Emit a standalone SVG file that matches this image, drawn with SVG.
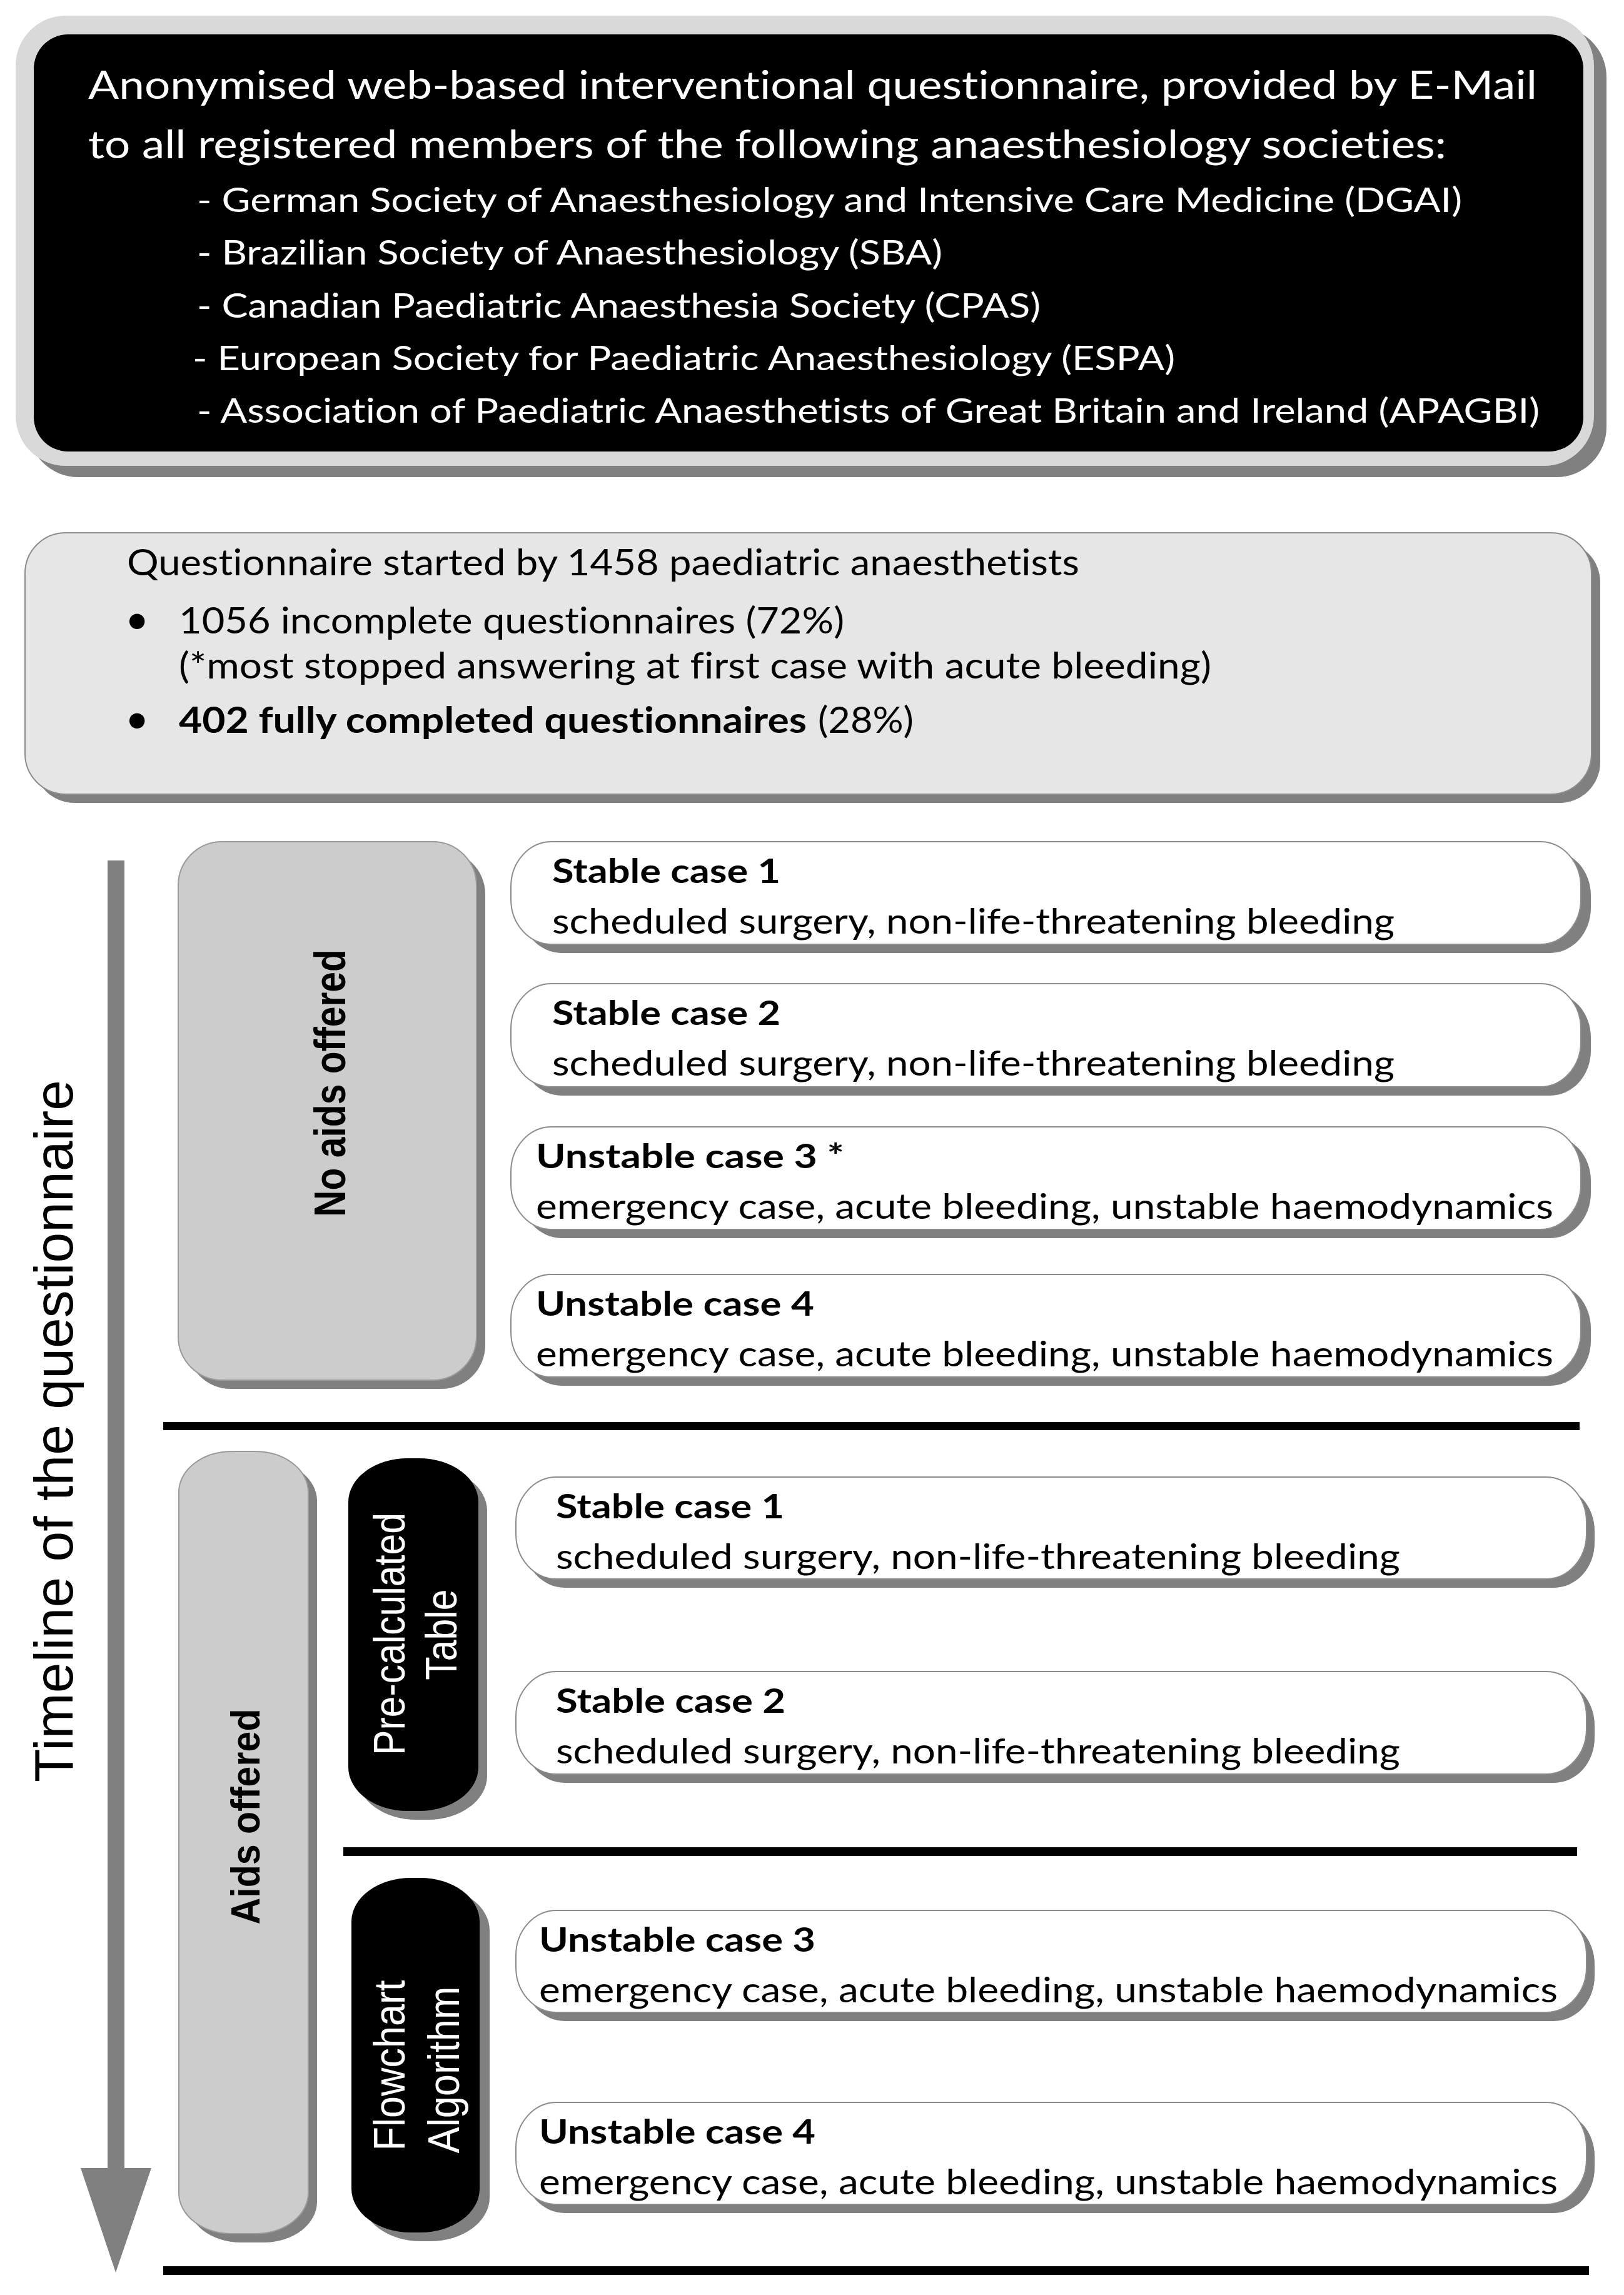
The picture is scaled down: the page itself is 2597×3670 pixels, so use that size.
<svg xmlns="http://www.w3.org/2000/svg" width="2597" height="3670" viewBox="0 0 2597 3670">
<style>
text{font-variant-ligatures:none;}
.t{font-family:"Lato","Liberation Sans",sans-serif;}
.w{fill:#ffffff;}
.k{fill:#000000;}
.b{font-weight:bold;}
.a{font-family:"Liberation Sans",Arial,sans-serif;}
.shadow{fill:#808080;}
.case{fill:#ffffff;stroke:#8c8c8c;stroke-width:2;}
.panel{fill:#cccccc;stroke:#9a9a9a;stroke-width:2;}
.pill{fill:#000000;}
.sep{fill:#000000;}
</style>
<rect x="0" y="0" width="2597" height="3670" fill="#ffffff"/>

<g id="header">
  <rect class="shadow" x="45" y="43" width="2524" height="720" rx="80" ry="80"/>
  <rect x="25" y="25" width="2524" height="720" rx="80" ry="80" fill="#d9d9d9"/>
  <rect x="54" y="55" width="2478" height="667" rx="55" ry="55" fill="#000000"/>
  <g class="t w" font-size="61">
    <text x="141" y="158" textLength="2317" lengthAdjust="spacingAndGlyphs">Anonymised web-based interventional questionnaire, provided by E-Mail</text>
    <text x="141" y="253" textLength="2172" lengthAdjust="spacingAndGlyphs">to all registered members of the following anaesthesiology societies:</text>
  </g>
  <g class="t w" font-size="55">
    <text x="315" y="339" textLength="2023" lengthAdjust="spacingAndGlyphs">- German Society of Anaesthesiology and Intensive Care Medicine (DGAI)</text>
    <text x="315" y="423" textLength="1192" lengthAdjust="spacingAndGlyphs">- Brazilian Society of Anaesthesiology (SBA)</text>
    <text x="315" y="508" textLength="1349" lengthAdjust="spacingAndGlyphs">- Canadian Paediatric Anaesthesia Society (CPAS)</text>
    <text x="308" y="592" textLength="1571" lengthAdjust="spacingAndGlyphs">- European Society for Paediatric Anaesthesiology (ESPA)</text>
    <text x="315" y="676" textLength="2147" lengthAdjust="spacingAndGlyphs">- Association of Paediatric Anaesthetists of Great Britain and Ireland (APAGBI)</text>
  </g>
</g>

<g id="participation">
  <rect class="shadow" x="54" y="866" width="2505" height="418" rx="65" ry="65"/>
  <rect x="40" y="852" width="2505" height="418" rx="65" ry="65" fill="#e6e6e6" stroke="#8c8c8c" stroke-width="2"/>
  <g class="t k" font-size="58">
    <text x="203" y="920" textLength="1523" lengthAdjust="spacingAndGlyphs">Questionnaire started by 1458 paediatric anaesthetists</text>
    <text x="200" y="1013" font-size="66">•</text>
    <text x="286" y="1013" textLength="1064" lengthAdjust="spacingAndGlyphs">1056 incomplete questionnaires (72%)</text>
    <text x="286" y="1085" textLength="1651" lengthAdjust="spacingAndGlyphs">(*most stopped answering at first case with acute bleeding)</text>
    <text x="200" y="1172" font-size="66">•</text>
    <text class="b" x="286" y="1172" textLength="1004" lengthAdjust="spacingAndGlyphs">402 fully completed questionnaires</text>
    <text x="1308" y="1172" textLength="153" lengthAdjust="spacingAndGlyphs">(28%)</text>
  </g>
</g>

<g id="timeline">
  <text class="a k" font-size="87" transform="translate(116,2850) rotate(-90)" x="0" y="0" textLength="1123" lengthAdjust="spacingAndGlyphs">Timeline of the questionnaire</text>
</g>

<g id="no-aids-panel">
  <rect class="shadow" x="299" y="1360" width="477" height="861" rx="70" ry="70"/>
  <rect class="panel" x="285" y="1346" width="477" height="861" rx="70" ry="70"/>
  <text class="a k b" font-size="70" text-anchor="middle" transform="translate(552,1732) rotate(-90)" textLength="428" lengthAdjust="spacingAndGlyphs">No aids offered</text>
</g>

<g id="case-b1">
  <rect class="shadow" x="833" y="1360" width="1711" height="164" rx="65" ry="72"/>
  <rect class="case" x="817" y="1346" width="1711" height="164" rx="65" ry="72"/>
  <text class="t k b" font-size="53" x="883" y="1412" textLength="365" lengthAdjust="spacingAndGlyphs">Stable case 1</text>
  <text class="t k" font-size="56" x="883" y="1493" textLength="1347" lengthAdjust="spacingAndGlyphs">scheduled surgery, non-life-threatening bleeding</text>
</g>
<g id="case-b2">
  <rect class="shadow" x="833" y="1587" width="1711" height="165" rx="65" ry="72"/>
  <rect class="case" x="817" y="1573" width="1711" height="165" rx="65" ry="72"/>
  <text class="t k b" font-size="53" x="883" y="1639" textLength="365" lengthAdjust="spacingAndGlyphs">Stable case 2</text>
  <text class="t k" font-size="56" x="883" y="1720" textLength="1347" lengthAdjust="spacingAndGlyphs">scheduled surgery, non-life-threatening bleeding</text>
</g>
<g id="case-b3">
  <rect class="shadow" x="833" y="1816" width="1711" height="164" rx="65" ry="72"/>
  <rect class="case" x="817" y="1802" width="1711" height="164" rx="65" ry="72"/>
  <text class="t k b" font-size="53" x="857" y="1868" textLength="493" lengthAdjust="spacingAndGlyphs">Unstable case 3 *</text>
  <text class="t k" font-size="56" x="857" y="1949" textLength="1627" lengthAdjust="spacingAndGlyphs">emergency case, acute bleeding, unstable haemodynamics</text>
</g>
<g id="case-b4">
  <rect class="shadow" x="833" y="2052" width="1711" height="164" rx="65" ry="72"/>
  <rect class="case" x="817" y="2038" width="1711" height="164" rx="65" ry="72"/>
  <text class="t k b" font-size="53" x="857" y="2104" textLength="445" lengthAdjust="spacingAndGlyphs">Unstable case 4</text>
  <text class="t k" font-size="56" x="857" y="2185" textLength="1627" lengthAdjust="spacingAndGlyphs">emergency case, acute bleeding, unstable haemodynamics</text>
</g>

<g id="aids-panel">
  <rect class="shadow" x="300" y="2335" width="207" height="1251" rx="85" ry="65"/>
  <rect class="panel" x="286" y="2321" width="207" height="1251" rx="85" ry="65"/>
  <text class="a k b" font-size="64" text-anchor="middle" transform="translate(415,2905) rotate(-90)" textLength="345" lengthAdjust="spacingAndGlyphs">Aids offered</text>
</g>

<g id="pre-calculated-table">
  <rect class="shadow" x="571" y="2346" width="208" height="564" rx="95" ry="70"/>
  <rect class="pill" x="557" y="2332" width="208" height="564" rx="95" ry="70"/>
  <text class="a w" font-size="70" text-anchor="middle" transform="translate(647,2613) rotate(-90)" textLength="388" lengthAdjust="spacingAndGlyphs">Pre-calculated</text>
  <text class="a w" font-size="70" text-anchor="middle" transform="translate(730,2614) rotate(-90)" textLength="145" lengthAdjust="spacingAndGlyphs">Table</text>
</g>

<g id="case-a1">
  <rect class="shadow" x="838" y="2376" width="1712" height="163" rx="65" ry="72"/>
  <rect class="case" x="825" y="2362" width="1712" height="163" rx="65" ry="72"/>
  <text class="t k b" font-size="53" x="889" y="2428" textLength="365" lengthAdjust="spacingAndGlyphs">Stable case 1</text>
  <text class="t k" font-size="56" x="889" y="2509" textLength="1350" lengthAdjust="spacingAndGlyphs">scheduled surgery, non-life-threatening bleeding</text>
</g>
<g id="case-a2">
  <rect class="shadow" x="838" y="2687" width="1712" height="164" rx="65" ry="72"/>
  <rect class="case" x="825" y="2673" width="1712" height="164" rx="65" ry="72"/>
  <text class="t k b" font-size="53" x="889" y="2739" textLength="367" lengthAdjust="spacingAndGlyphs">Stable case 2</text>
  <text class="t k" font-size="56" x="889" y="2820" textLength="1350" lengthAdjust="spacingAndGlyphs">scheduled surgery, non-life-threatening bleeding</text>
</g>

<g id="flowchart-algorithm">
  <rect class="shadow" x="578" y="3017" width="205" height="567" rx="95" ry="70"/>
  <rect class="pill" x="562" y="3003" width="205" height="567" rx="95" ry="70"/>
  <text class="a w" font-size="70" text-anchor="middle" transform="translate(647,3303) rotate(-90)" textLength="273" lengthAdjust="spacingAndGlyphs">Flowchart</text>
  <text class="a w" font-size="70" text-anchor="middle" transform="translate(734,3310) rotate(-90)" textLength="267" lengthAdjust="spacingAndGlyphs">Algorithm</text>
</g>

<g id="case-a3">
  <rect class="shadow" x="838" y="3069" width="1712" height="163" rx="65" ry="72"/>
  <rect class="case" x="825" y="3055" width="1712" height="163" rx="65" ry="72"/>
  <text class="t k b" font-size="53" x="862" y="3121" textLength="442" lengthAdjust="spacingAndGlyphs">Unstable case 3</text>
  <text class="t k" font-size="56" x="862" y="3202" textLength="1629" lengthAdjust="spacingAndGlyphs">emergency case, acute bleeding, unstable haemodynamics</text>
</g>
<g id="case-a4">
  <rect class="shadow" x="838" y="3376" width="1712" height="163" rx="65" ry="72"/>
  <rect class="case" x="825" y="3362" width="1712" height="163" rx="65" ry="72"/>
  <text class="t k b" font-size="53" x="862" y="3428" textLength="442" lengthAdjust="spacingAndGlyphs">Unstable case 4</text>
  <text class="t k" font-size="56" x="862" y="3509" textLength="1629" lengthAdjust="spacingAndGlyphs">emergency case, acute bleeding, unstable haemodynamics</text>
</g>

<g id="separators">
  <rect class="sep" x="261" y="2274" width="2265" height="13"/>
  <rect class="sep" x="549" y="2954" width="1973" height="14"/>
  <rect class="sep" x="261" y="3624" width="2280" height="14"/>
</g>

<g id="connectors">
  <path d="M172,1376 H199 V3467 H242 L185,3634 L129,3467 H172 Z" fill="#808080"/>
</g>
</svg>
